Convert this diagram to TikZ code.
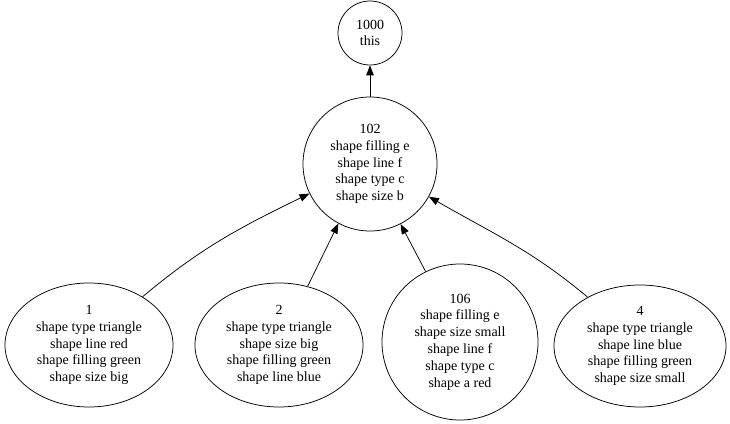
\documentclass[tikz,border=0pt]{standalone}
\usepackage{fontspec}
\setmainfont{Liberation Serif}
\usetikzlibrary{arrows.meta,shapes.geometric}
\tikzset{
  gnode/.style={draw=black, line width=0.75pt, ellipse, inner sep=0pt, align=center,
    font=\rmfamily\fontsize{14}{16.8}\selectfont},
  gcirc/.style={draw=black, line width=0.75pt, circle, inner sep=0pt, align=center,
    font=\rmfamily\fontsize{14}{16.8}\selectfont},
  gedge/.style={draw=black, line width=0.75pt, -{Triangle[length=10pt,width=7.5pt]}},
}
\begin{document}
\begin{tikzpicture}[x=1pt,y=1pt]
\useasboundingbox (0,0) rectangle (730,423);
\node[gcirc, minimum size=64pt] (n1000) at (370,390) {1000\\this};
\node[gcirc, minimum size=134pt] (n102) at (370,259) {102\\shape filling e\\shape line f\\shape type c\\shape size b};
\node[gnode, minimum width=168pt, minimum height=124pt] (n1) at (89,78) {1\\shape type triangle\\shape line red\\shape filling green\\shape size big};
\node[gnode, minimum width=168pt, minimum height=124pt] (n2) at (279,78) {2\\shape type triangle\\shape size big\\shape filling green\\shape line blue};
\node[gcirc, minimum size=156pt] (n106) at (460,81) {106\\shape filling e\\shape size small\\shape line f\\shape type c\\shape a red};
\node[gnode, minimum width=172pt, minimum height=122pt] (n4) at (640,77) {4\\shape type triangle\\shape line blue\\shape filling green\\shape size small};
\draw[gedge] (n102.north) -- (n1000.south);
\draw[gedge] (n1.42) to[out=40,in=206] (n102.206);
\draw[gedge] (n2.64) -- (n102.242);
\draw[gedge] (n106.116) -- (n102.297);
\draw[gedge] (n4.137) to[out=140,in=-30] (n102.331);
\end{tikzpicture}
\end{document}
